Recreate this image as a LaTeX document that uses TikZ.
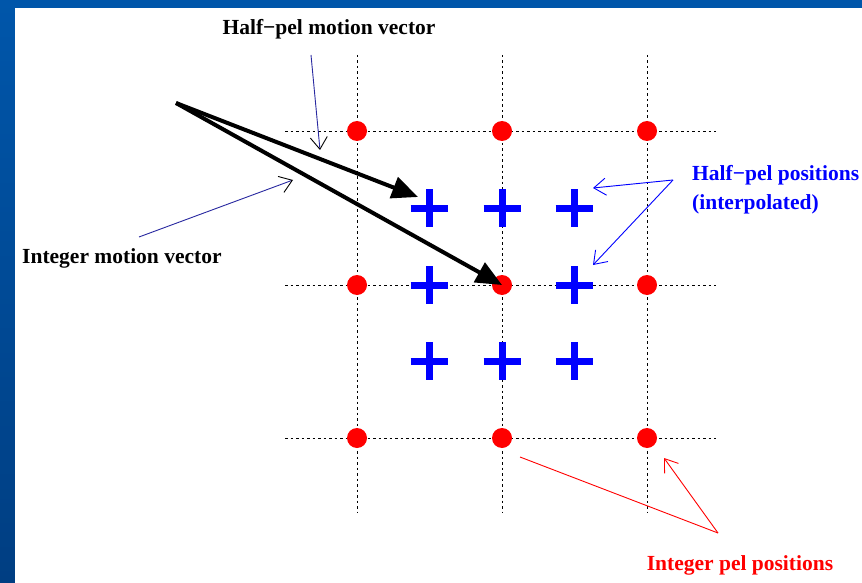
\documentclass[tikz,border=0pt]{standalone}
\usepackage{fontspec}
\setmainfont{Liberation Serif}
\usetikzlibrary{arrows.meta,positioning,calc}

\definecolor{slideblue}{RGB}{0,86,170}
\definecolor{slidedeep}{RGB}{0,62,130}
\definecolor{pelred}{RGB}{255,0,0}
\definecolor{halfblue}{RGB}{0,0,255}
\definecolor{navyline}{RGB}{40,40,160}

\tikzset{
  gridline/.style={black, line width=0.7pt, dash pattern=on 2.5pt off 3pt},
  intdot/.style={circle, fill=pelred, inner sep=0pt, minimum size=20pt},
  halfcross/.style={halfblue, line width=7pt},
  mvarrow/.style={line width=4pt, -{Triangle[length=26pt,width=22pt]}},
  pointer/.style={line width=0.9pt, -{Straight Barb[length=12pt,width=17pt]}},
  lbl/.style={font=\bfseries\fontsize{21.5}{29}\selectfont, inner sep=0pt}
}

\begin{document}
\begin{tikzpicture}[x=1pt,y=-1pt]
% slide frame
\shade[top color=slideblue, bottom color=slidedeep] (0,0) rectangle (862,583);
\fill[white] (15,8) rectangle (862,583);
\useasboundingbox (0,0) rectangle (862,583);

% pel grid
\foreach \x in {357,502,647}
  \draw[gridline] (\x,55) -- (\x,512);
\foreach \y in {131,285,438}
  \draw[gridline] (285,\y) -- (716,\y);

% integer pels
\foreach \x [count=\i] in {357,502,647}
  \foreach \y [count=\j] in {131,285,438}
    \node[intdot] (p\i\j) at (\x,\y) {};

% half pels
\foreach \x [count=\i] in {429,502,574}
  \foreach \y [count=\j] in {208,285,361} {
    \ifnum\i\j=22 \else
      \coordinate (h\i\j) at (\x,\y);
      \draw[halfcross] ($(h\i\j)+(-18.5,0)$) -- ++(37,0)
                       ($(h\i\j)+(0,-19)$) -- ++(0,38);
    \fi
  }

% motion vectors
\coordinate (mv) at (176,103);
\draw[mvarrow] (mv) -- ($(h11)+(-11,-11)$);
\draw[mvarrow] (mv) -- (p22.center);

% labels
\node[lbl] (hpmvlbl) at (329,29) {Half−pel motion vector};
\node[lbl, anchor=west] (imvlbl) at (22,258) {Integer motion vector};
\node[lbl, text=halfblue, align=left, anchor=base west] (hpplbl) at (692,209) {Half−pel positions\\(interpolated)};
\node[lbl, text=pelred] (ipplbl) at (740,565) {Integer pel positions};

% pointers
\coordinate (hpmvtail) at (311,55);
\coordinate (hpmvtip) at (320,150);
\draw[pointer, navyline, -{Straight Barb[length=12pt,width=17pt,color=black]}] (hpmvtail) -- (hpmvtip);
\coordinate (imvtail) at (139,237);
\coordinate (imvtip) at (293,180);
\draw[pointer, navyline, -{Straight Barb[length=12pt,width=17pt,color=black]}] (imvtail) -- (imvtip);
\coordinate (hppfork) at (673,180);
\draw[pointer, halfblue] (hppfork) -- (593,188);
\draw[pointer, halfblue] (hppfork) -- (593,265);
\coordinate (ippfork) at (718,533);
\draw[pelred, line width=0.9pt] (ippfork) -- (520,457);
\draw[pointer, pelred] (ippfork) -- (664,458);
\end{tikzpicture}
\end{document}
